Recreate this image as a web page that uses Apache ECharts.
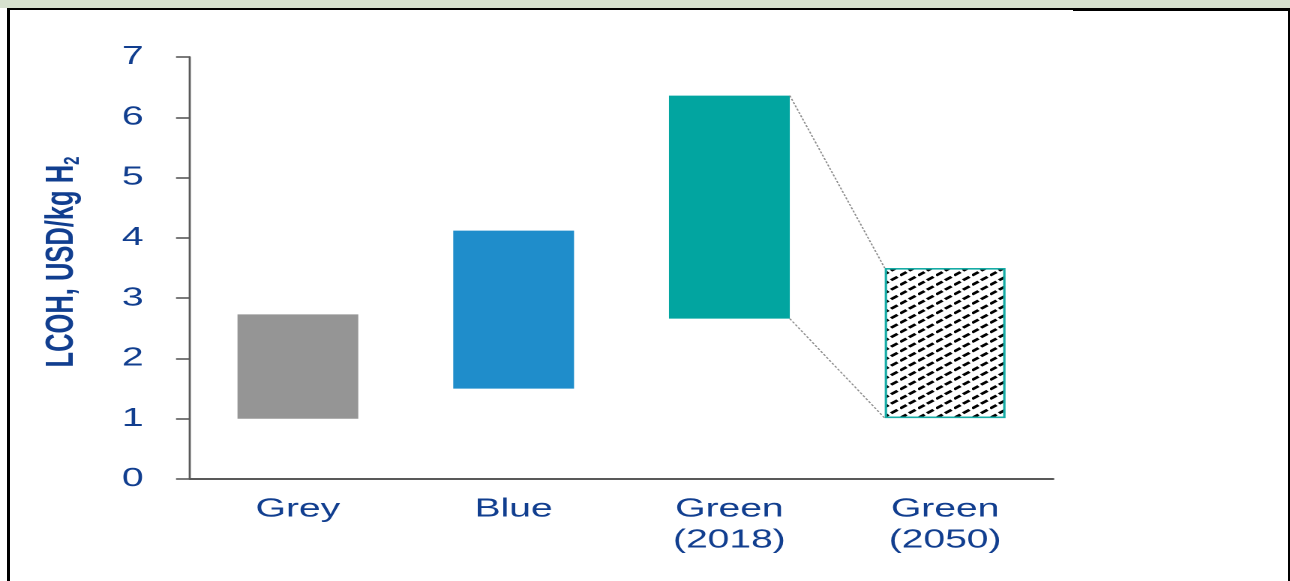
<!DOCTYPE html>
<html>
<head>
<meta charset="utf-8">
<title>LCOH by hydrogen type</title>
<script src="https://cdn.jsdelivr.net/npm/echarts/dist/echarts.min.js"></script>
<style>
  html, body { margin: 0; padding: 0; background: #ffffff; }
  body { width: 1290px; height: 581px; position: relative; overflow: hidden; }
  #band { position: absolute; left: 0; top: 0; width: 1290px; height: 8px; background: #d7e1cf; }
  #frame {
    position: absolute; left: 7px; top: 8px; width: 1283px; height: 600px;
    box-sizing: border-box; border-left: 3px solid #000; border-top: 2px solid #000;
    border-right: 2px solid #000; pointer-events: none; z-index: 2;
  }
  #frameThick { position: absolute; left: 1073px; top: 10px; width: 217px; height: 1px; background: #000; z-index: 2; }
  /* the chart is laid out on a narrower canvas and widened horizontally */
  #chart {
    position: absolute; left: 0; top: 0; width: 860px; height: 581px;
    transform: scaleX(1.5); transform-origin: 0 0; z-index: 1;
  }
</style>
</head>
<body>
<div id="band"></div>
<div id="chart"></div>
<div id="frame"></div>
<div id="frameThick"></div>
<script>
// Levelised cost of hydrogen ranges, USD/kg H2
const categories = ['Grey', 'Blue', 'Green\n(2018)', 'Green\n(2050)'];
const lowValues  = [1.00, 1.50, 2.66, 1.01];
const highValues = [2.73, 4.12, 6.36, 3.50];
// pairs of categories joined by guide lines (from, to)
const connectPairs = [[2, 3]];

const TEXT_BLUE = '#113e8f';
const AXIS_GREY = '#595959';
const BAR_RATIO = 0.56;

// diagonal dashed hatch used for the projected range
function hatchTile() {
  const k = 4, w = 12, h = 9.5;
  const c = document.createElement('canvas');
  c.width = w * k; c.height = h * k;
  const g = c.getContext('2d');
  g.fillStyle = '#ffffff';
  g.fillRect(0, 0, c.width, c.height);
  g.strokeStyle = '#000000';
  g.lineWidth = 2.4 * k;
  g.lineCap = 'butt';
  const len = Math.hypot(w, h);
  g.setLineDash([len * 0.36 * k, len * 0.14 * k]);
  for (const off of [-1, 0, 1]) {
    g.beginPath();
    g.moveTo(0, (h + off * h) * k);
    g.lineTo(w * k, (off * h) * k);
    g.stroke();
  }
  return { image: c, repeat: 'repeat', scaleX: 1 / k, scaleY: 1 / k };
}

const barStyles = [
  { color: '#959595' },
  { color: '#1f8dcb' },
  { color: '#02a5a0' },
  { color: hatchTile(), borderColor: '#17aca6', borderWidth: 1.6 }
];

const chart = echarts.init(document.getElementById('chart'), null, {
  renderer: 'canvas', devicePixelRatio: 2
});

chart.setOption({
  animation: false,
  backgroundColor: 'transparent',
  textStyle: { fontFamily: 'Liberation Sans, Arial, sans-serif' },
  grid: { left: 126.67, right: 158, top: 57, bottom: 102 },
  xAxis: {
    type: 'category',
    data: categories,
    axisTick: { show: false },
    axisLine: { lineStyle: { color: AXIS_GREY, width: 2 } },
    axisLabel: { fontSize: 26, lineHeight: 31, margin: 15, color: TEXT_BLUE, interval: 0 }
  },
  yAxis: {
    type: 'value',
    min: 0, max: 7, interval: 1,
    splitLine: { show: false },
    axisLine: { show: true, lineStyle: { color: AXIS_GREY, width: 1.4 } },
    axisTick: { show: true, length: 9.3, lineStyle: { color: AXIS_GREY, width: 1.6 } },
    axisLabel: { fontSize: 26, margin: 31, color: TEXT_BLUE },
    name: '{t|LCOH, USD/kg H}{s|2}',
    nameLocation: 'middle',
    nameRotate: 90,
    nameGap: 71,
    nameTextStyle: {
      padding: [0, 0, 0, 12],
      rich: {
        t: { fontSize: 25.5, fontWeight: 'bold', color: TEXT_BLUE, lineHeight: 28 },
        s: { fontSize: 15, fontWeight: 'bold', color: TEXT_BLUE, lineHeight: 15, verticalAlign: 'bottom' }
      }
    }
  },
  series: [
    {
      name: 'base',
      type: 'bar',
      stack: 'range',
      barWidth: (BAR_RATIO * 100) + '%',
      silent: true,
      itemStyle: { color: 'transparent' },
      data: lowValues
    },
    {
      name: 'LCOH range',
      type: 'bar',
      stack: 'range',
      barWidth: (BAR_RATIO * 100) + '%',
      data: highValues.map((h, i) => ({
        value: +(h - lowValues[i]).toFixed(2),
        itemStyle: barStyles[i]
      }))
    },
    {
      name: 'guides',
      type: 'custom',
      silent: true,
      z: 3,
      encode: { x: [0, 3], y: [1, 2, 4, 5] },
      data: connectPairs.map(([a, b]) => [a, lowValues[a], highValues[a], b, lowValues[b], highValues[b]]),
      renderItem(params, api) {
        const half = api.size([1, 0])[0] * BAR_RATIO / 2;
        const a = api.value(0), b = api.value(3);
        const aHigh = api.coord([a, api.value(2)]);
        const aLow = api.coord([a, api.value(1)]);
        const bHigh = api.coord([b, api.value(5)]);
        const bLow = api.coord([b, api.value(4)]);
        const style = { stroke: '#8a8a8a', lineWidth: 1, lineDash: [2, 1.5], fill: null };
        return {
          type: 'group',
          children: [
            { type: 'line', shape: { x1: aHigh[0] + half, y1: aHigh[1], x2: bHigh[0] - half, y2: bHigh[1] }, style },
            { type: 'line', shape: { x1: aLow[0] + half, y1: aLow[1], x2: bLow[0] - half, y2: bLow[1] }, style }
          ]
        };
      }
    }
  ]
});
</script>
</body>
</html>
